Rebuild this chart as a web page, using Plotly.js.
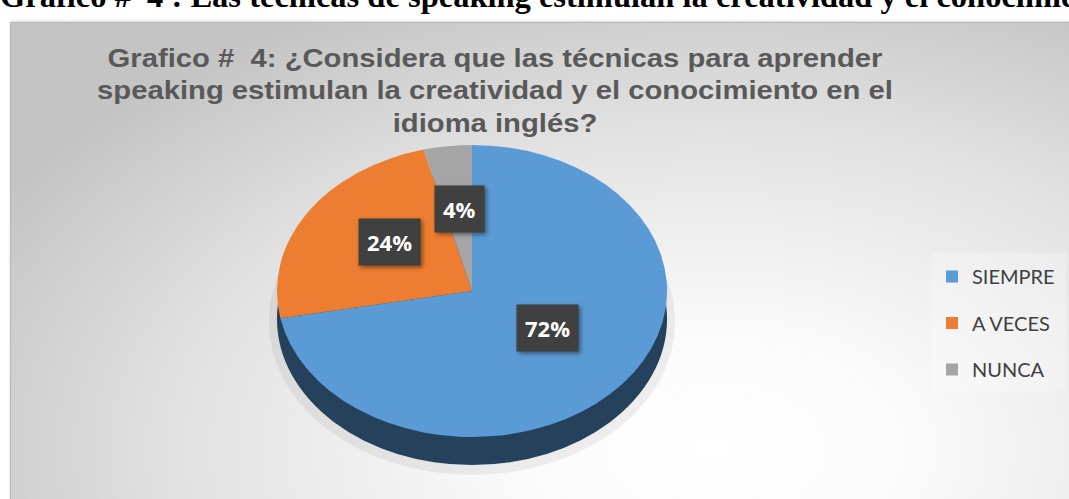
<!DOCTYPE html>
<html>
<head>
<meta charset="utf-8">
<script src="https://cdn.plot.ly/plotly-3.0.1.min.js"></script>
<style>
  html, body { margin: 0; padding: 0; background: #ffffff; }
  #page { position: relative; width: 1069px; height: 499px; overflow: hidden; background: #ffffff; }
  #header { position: absolute; left: 0; top: -20px; white-space: nowrap;
            font: bold 32.5px/32px "Liberation Serif", "Times New Roman", serif; color: #000; }
  #box { position: absolute; left: 10px; top: 22px; width: 1100px; height: 520px;
         border-left: 1px solid #b8b8b8; border-top: 1px solid #b8b8b8;
         box-shadow: 0 -1px 2px rgba(0,0,0,0.15);
         background: radial-gradient(ellipse 75% 95% at 64% 82%, #ffffff 0%, #fafafa 25%, #e2e2e2 65%, #c4c4c4 100%); }
  #chart { position: absolute; left: 0; top: 0; width: 1069px; height: 499px; }
  #chart .gtitle { transform-box: fill-box; transform-origin: center; transform: scaleX(1.17); }
  #chart .annotation rect.bg { filter: drop-shadow(2px 2px 2px rgba(0,0,0,0.45)); }
</style>
</head>
<body>
<div id="page">
  <div id="header">Grafico # &nbsp;4 : Las técnicas de speaking estimulan la creatividad y el conocimiento en el idioma inglés</div>
  <div id="box"></div>
  <div id="chart"></div>
</div>
<script>
// ---- data ----
const categories = ['SIEMPRE', 'A VECES', 'NUNCA'];
const values = [72, 24, 4];
const colors = ['#5B9BD5', '#ED7D31', '#A5A5A5'];
const titleText = 'Grafico #  4: ¿Considera que las técnicas para aprender<br>speaking estimulan la creatividad y el conocimiento en el<br>idioma inglés?';

// ---- layout constants ----
const W = 1069, H = 499;
const cx = 472, cy = 291, R = 146, sx = 1.336, depth = 28;
const labelFrac = 0.5, labelLift = 10;
const legendGap = 46.5;

const domain = {
  x: [(cx - R) / W, (cx + R) / W],
  y: [1 - (cy + R) / H, 1 - (cy - R) / H]
};

const total = values.reduce((a, b) => a + b, 0);
const annotations = [];
let cum = 0;
values.forEach((v, i) => {
  const mid = (cum + v / 2) / total * 2 * Math.PI; // clockwise from top
  cum += v;
  const px = cx + sx * labelFrac * R * Math.sin(mid);
  const py = cy - labelLift - labelFrac * R * Math.cos(mid);
  annotations.push({
    x: px / W, y: 1 - py / H, xref: 'paper', yref: 'paper',
    xanchor: 'center', yanchor: 'middle',
    text: '<b>' + Math.round(v / total * 100) + '%</b>',
    showarrow: false, bgcolor: '#404040', borderpad: 8,
    font: { family: 'Open Sans, Liberation Sans, sans-serif', size: 22, color: '#ffffff' }
  });
});

const rx = R * sx;
const shapes = [
  { type: 'circle', xref: 'paper', yref: 'paper', layer: 'below',
    x0: (cx - rx - 8) / W, x1: (cx + rx + 8) / W,
    y0: 1 - (cy + R + depth + 10) / H, y1: 1 - (cy - R + depth - 4) / H,
    fillcolor: 'rgba(0,0,0,0.06)', line: { width: 0 } },
  { type: 'circle', xref: 'paper', yref: 'paper', layer: 'below',
    x0: (cx - rx) / W, x1: (cx + rx) / W,
    y0: 1 - (cy + R + depth) / H, y1: 1 - (cy - R + depth) / H,
    fillcolor: '#26415C', line: { width: 0 } }
];

const trace = {
  type: 'pie',
  labels: categories,
  values: values,
  marker: { colors: colors, line: { width: 0 } },
  sort: false,
  direction: 'clockwise',
  rotation: 0,
  textinfo: 'none',
  hoverinfo: 'label+percent',
  domain: domain
};

const layout = {
  width: W, height: H,
  margin: { l: 0, r: 0, t: 0, b: 0 },
  paper_bgcolor: 'rgba(0,0,0,0)',
  plot_bgcolor: 'rgba(0,0,0,0)',
  title: {
    text: '<b>' + titleText + '</b>',
    x: 495 / W, xanchor: 'center', xref: 'paper',
    y: 1 - 67 / H, yanchor: 'top', yref: 'paper',
    font: { family: 'Liberation Sans, Arial, sans-serif', size: 25, color: '#595959' }
  },
  showlegend: true,
  legend: {
    x: 932 / W, xanchor: 'left', y: 1 - 253 / H, yanchor: 'top',
    bgcolor: 'rgba(255,255,255,0.25)',
    font: { family: 'Lato, Liberation Sans, sans-serif', size: 20, color: '#404040' },
    itemclick: false, itemdoubleclick: false
  },
  shapes: shapes,
  annotations: annotations
};

const gd = document.getElementById('chart');
Plotly.newPlot(gd, [trace], layout, { staticPlot: true, displayModeBar: false }).then(() => {
  // elliptical (perspective) look of the pie
  const pl = gd.querySelector('.pielayer');
  if (pl) pl.setAttribute('transform',
    'translate(' + cx + ',' + cy + ') scale(' + sx + ',1) translate(' + (-cx) + ',' + (-cy) + ')');
  // spread legend entries
  const leg = gd.querySelector('.legend');
  if (leg) {
    const items = leg.querySelectorAll('.traces');
    let y0 = null, oldGap = 0;
    items.forEach((it, i) => {
      const m = (it.getAttribute('transform') || '').match(/translate\(\s*([-\d.]+)[ ,]+([-\d.]+)\s*\)/);
      if (!m) return;
      const x = parseFloat(m[1]), y = parseFloat(m[2]);
      if (i === 0) y0 = y;
      if (i === 1) oldGap = y - y0;
      it.setAttribute('transform', 'translate(' + x + ',' + (y0 + 4 + i * legendGap) + ')');
    });
    const bg = leg.querySelector('rect.bg');
    if (bg && items.length > 1) {
      const h = parseFloat(bg.getAttribute('height'));
      bg.setAttribute('height', h + (items.length - 1) * (legendGap - oldGap) + 6);
      bg.setAttribute('width', 134);
    }
    const sb = leg.querySelector('.scrollbox');
    if (sb) sb.removeAttribute('clip-path');
  }
});
</script>
</body>
</html>
